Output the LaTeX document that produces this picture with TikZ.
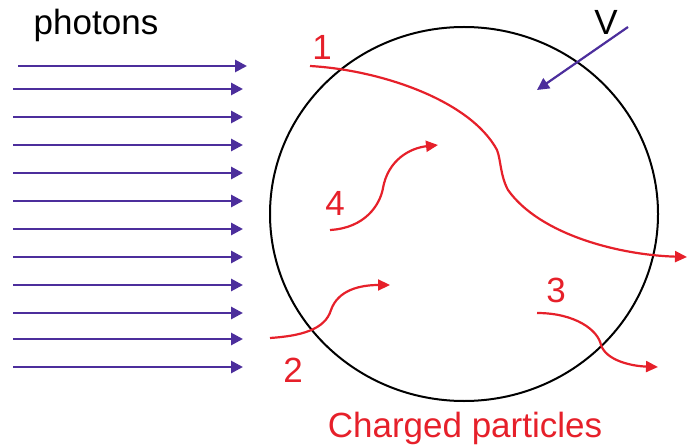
\documentclass[tikz,border=0pt]{standalone}
\usepackage{fontspec}
\setmainfont{Liberation Sans}
\usetikzlibrary{arrows.meta}
\definecolor{pred}{RGB}{230,32,42}
\definecolor{ppurple}{RGB}{76,46,156}
\begin{document}
\begin{tikzpicture}[x=1pt,y=-1pt,
  photon/.style={draw=ppurple,line width=2.8pt,-{Triangle[length=12pt,width=12pt]}},
  track/.style={draw=pred,line width=2.2pt,-{Triangle[length=12pt,width=11pt]}},
  lbl/.style={font=\fontsize{35}{40}\selectfont,anchor=base,inner sep=0pt},
  redlbl/.style={lbl,text=pred}]
\useasboundingbox (0,0) rectangle (687,446);
% detector
\draw[line width=2pt,black] (464,214) ellipse [x radius=194, y radius=187];
% photons
\node[lbl] (ph) at (96,35) {photons};
\coordinate (ps1) at (18,66); \coordinate (pe1) at (247,66);
\draw[photon] (ps1) -- (pe1);
\foreach \y [count=\i] in {89,117,145,173,201,229,257,285,313,339,367}{
  \coordinate (ps\i) at (13,\y); \coordinate (pe\i) at (243,\y);
  \draw[photon] (ps\i) -- (pe\i);
}
% V arrow
\node[lbl] (V) at (606,35) {V};
\coordinate (vs) at (628,27); \coordinate (ve) at (537,90);
\draw[draw=ppurple,line width=2.2pt,-{Triangle[length=12pt,width=12pt]}] (vs) -- (ve);
% track 1
\node[redlbl] (l1) at (322,60) {1};
\coordinate (a0) at (310,66); \coordinate (a1) at (497,150);
\coordinate (a2) at (508,190); \coordinate (a3) at (687,257);
\draw[track] (a0) .. controls (380,70) and (470,100) .. (a1)
  .. controls (501,160) and (500,175) .. (a2)
  .. controls (540,235) and (620,255) .. (a3);
% track 4
\node[redlbl] (l4) at (335,215) {4};
\coordinate (d0) at (330,230); \coordinate (d1) at (383,188); \coordinate (d2) at (438,145);
\draw[track] (d0) .. controls (365,228) and (380,205) .. (d1)
  .. controls (388,160) and (410,148) .. (d2);
% track 2
\node[redlbl] (l2) at (293,382) {2};
\coordinate (b0) at (270,338); \coordinate (b1) at (331,310); \coordinate (b2) at (390,285);
\draw[track] (b0) .. controls (300,336) and (325,330) .. (b1)
  .. controls (338,290) and (360,285) .. (b2);
% track 3
\node[redlbl] (l3) at (556,302) {3};
\coordinate (c0) at (537,313); \coordinate (c1) at (601,345); \coordinate (c2) at (658,367);
\draw[track] (c0) .. controls (575,313) and (598,330) .. (c1)
  .. controls (606,360) and (630,366) .. (c2);
% caption
\node[redlbl] (cap) at (465,437) {Charged particles};
\end{tikzpicture}
\end{document}
